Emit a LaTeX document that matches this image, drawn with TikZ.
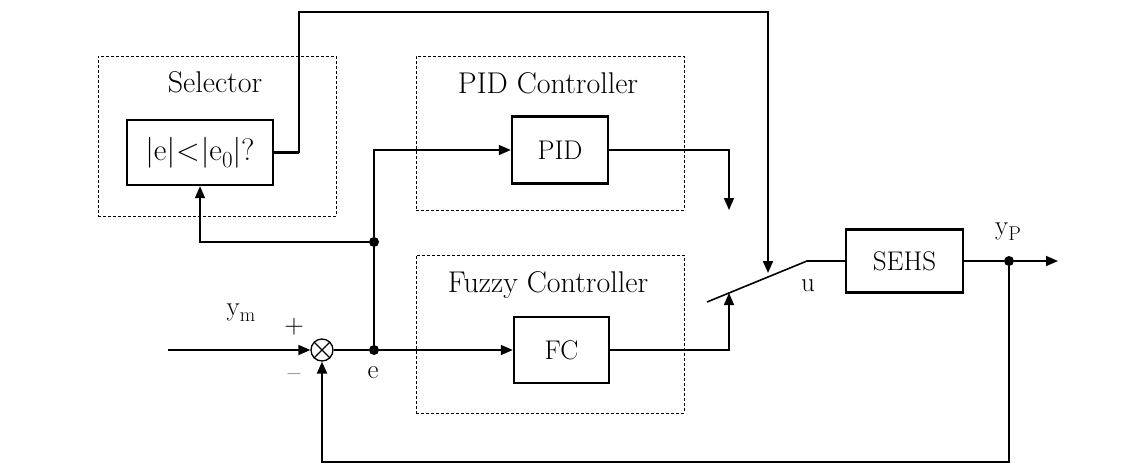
\documentclass[tikz,border=0pt]{standalone}
\usetikzlibrary{arrows.meta}
\newcommand{\subsc}[1]{\raisebox{-0.22em}{\fontsize{20}{20}\selectfont #1}}
\newcommand{\subsb}[1]{\raisebox{-0.25em}{\fontsize{23}{23}\selectfont #1}}
\begin{document}
\begin{tikzpicture}[x=1pt,y=-1pt,
  txt/.style={font=\fontsize{27}{30}\selectfont, inner sep=0pt},
  ttl/.style={font=\fontsize{30}{34}\selectfont, inner sep=0pt},
  grp/.style={draw, dash pattern=on 3pt off 2pt, line width=0.9pt, inner sep=0pt},
  blk/.style={draw, line width=2.4pt, inner sep=0pt, font=\fontsize{27}{30}\selectfont},
  wire/.style={line width=1.6pt},
  arr/.style={wire, -{Triangle[length=12pt,width=10pt]}},
  dot/.style={circle, fill, inner sep=0pt, minimum size=10pt}]
\useasboundingbox (0,0) rectangle (1144,464);
% groups
\node[grp, minimum width=238pt, minimum height=160pt] (selgrp) at (217,136) {};
\node[ttl] (seltitle) at (215,82) {Selector};
\node[blk, minimum width=146pt, minimum height=65pt] (sel) at (200,152.5) {\fontsize{31}{34}\selectfont\textbar e\textbar\kern1pt\textless\kern1pt\textbar e\subsb{0}\textbar?};
\node[grp, minimum width=268pt, minimum height=154pt] (pidgrp) at (550,133) {};
\node[ttl] (pidtitle) at (548,83) {PID Controller};
\node[blk, minimum width=96pt, minimum height=67pt] (pid) at (560,150) {PID};
\node[grp, minimum width=268pt, minimum height=158pt] (fzgrp) at (550,334) {};
\node[ttl] (fztitle) at (548,285) {Fuzzy Controller};
\node[blk, minimum width=95pt, minimum height=66pt] (fc) at (561.5,350) {FC};
\node[blk, minimum width=117pt, minimum height=63pt] (sehs) at (904.5,261) {SEHS};
% sum junction
\node[circle, draw, line width=1.3pt, minimum size=22pt, inner sep=0pt] (sum) at (322,350) {};
\draw[line width=1.3pt] (sum.north west) -- (sum.south east) (sum.north east) -- (sum.south west);
\node[dot] (de) at (374,350) {};
\node[dot] (ds) at (374,242) {};
\node[dot] (dy) at (1009,261) {};
% coordinates
\coordinate (in) at (168,350);
\coordinate (sw1) at (707,302);
\coordinate (sw2) at (807,261);
\coordinate (t1) at (299,152.5);
\coordinate (t2) at (299,12);
\coordinate (t3) at (768,12);
\coordinate (t4) at (768,273);
\coordinate (p1) at (729,150);
\coordinate (p2) at (729,210);
\coordinate (f1) at (729,350);
\coordinate (f2) at (729,293);
\coordinate (out) at (1058,261);
\coordinate (b1) at (1009,462);
\coordinate (b2) at (322,462);
% connectors
\draw[arr] (in) -- (sum.west);
\draw[wire] (sum.east) -- (de);
\draw[arr] (de) -- (fc.west);
\draw[wire] (de) -- (ds);
\draw[arr] (ds) |- (pid.west);
\draw[arr] (ds) -| (sel.south);
\draw[wire, line width=2.2pt] (sel.east) -- (t1);
\draw[arr, line width=2pt] (t1) -- (t2) -- (t3) -- (t4);
\draw[arr] (pid.east) -- (p1) -- (p2);
\draw[arr] (fc.east) -- (f1) -- (f2);
\draw[wire] (sw1) -- (sw2) -- (sehs.west);
\draw[wire] (sehs.east) -- (dy);
\draw[arr] (dy) -- (out);
\draw[arr, line width=2.4pt] (dy) -- (b1) -- (b2) -- (sum.south);
% labels
\node[txt] (lu) at (808,286) {u};
\node[txt] (lyp) at (1008,232) {y\subsc{P}};
\node[txt] (lym) at (241,313) {y\subsc{m}};
\node[txt] (lplus) at (294,327) {+};
\node[txt] (lminus) at (294,378) {\textendash};
\node[txt] (le) at (373,373) {e};
\end{tikzpicture}
\end{document}
